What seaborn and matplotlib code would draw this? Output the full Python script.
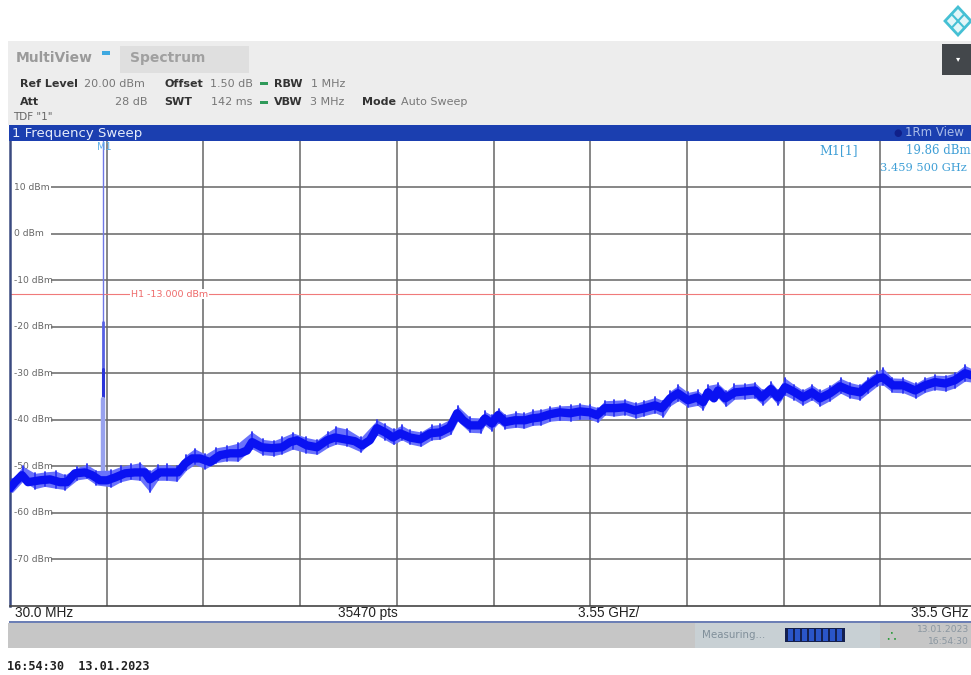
import numpy as np
import pandas as pd
import seaborn as sns
import matplotlib.pyplot as plt
from matplotlib.patches import Rectangle, Polygon

# trace: centre of the noise band
trace_ghz = [0.03, 0.21, 0.47, 0.69, 1.13, 1.50, 1.86, 2.12, 2.41, 2.78, 3.04, 3.33, 3.59, 3.88, 4.25, 4.61,
             4.98, 5.16, 5.53, 5.90, 6.19, 6.45, 6.71, 7.00, 7.37, 7.73, 8.10, 8.47, 8.72, 8.91, 9.27, 9.64,
             10.01, 10.30, 10.56, 10.92, 11.29, 11.66, 11.95, 12.32, 12.68, 12.94, 13.23, 13.49, 13.79, 14.08,
             14.34, 14.70, 15.07, 15.44, 15.80, 16.17, 16.43, 16.65, 16.90, 17.27, 17.45, 17.71, 17.93, 18.19,
             18.55, 18.92, 19.18, 19.47, 19.84, 20.20, 20.57, 20.94, 21.30, 21.56, 21.85, 22.22, 22.59, 22.95,
             23.32, 23.69, 23.94, 24.24, 24.53, 24.90, 25.23, 25.45, 25.63, 25.85, 26.00, 26.26, 26.62, 26.99,
             27.36, 27.61, 27.94, 28.20, 28.46, 28.82, 29.12, 29.45, 29.74, 30.11, 30.47, 30.84, 31.21, 31.50,
             31.87, 32.05, 32.42, 32.79, 33.23, 33.59, 33.96, 34.33, 34.69, 35.06, 35.28, 35.50]
trace_dbm = [-54.7, -53.4, -51.9, -53.4, -53.0, -52.8, -53.4, -53.4, -51.5, -51.3, -51.9, -53.0, -53.0, -52.4,
             -51.5, -51.3, -51.3, -52.8, -51.3, -51.3, -51.3, -49.4, -48.3, -48.3, -49.1, -47.6, -47.2, -47.2,
             -46.6, -44.8, -45.9, -46.1, -45.9, -44.8, -44.4, -45.5, -45.9, -44.4, -43.8, -44.2, -44.6, -45.5,
             -44.4, -41.8, -42.7, -43.8, -42.9, -43.8, -44.2, -42.9, -42.7, -41.6, -38.6, -40.1, -41.2, -41.2,
             -39.7, -40.8, -39.0, -40.5, -40.1, -40.1, -39.7, -39.5, -38.8, -38.4, -38.6, -38.2, -38.4, -39.0,
             -37.5, -37.5, -37.3, -38.0, -37.5, -36.9, -37.5, -35.4, -34.3, -35.8, -35.2, -36.2, -34.1, -35.4,
             -33.7, -35.4, -34.1, -33.9, -33.7, -35.2, -33.4, -35.2, -33.0, -34.1, -35.2, -34.1, -35.4, -34.3,
             -32.8, -33.7, -34.1, -32.6, -31.1, -30.9, -32.6, -32.6, -33.7, -32.6, -31.9, -32.2, -31.5, -30.0,
             -30.4, -30.6]

# tips of the noise on either side of the band
spike_ghz = [0.12, 0.5, 0.95, 1.3, 1.7, 2.05, 2.5, 2.85, 3.2, 3.75, 4.1, 4.45, 4.8, 5.16, 5.45, 5.8, 6.15, 6.5,
             6.8, 7.2, 7.6, 8.0, 8.4, 8.9, 9.3, 9.7, 10.0, 10.4, 10.9, 11.3, 11.7, 12.0, 12.4, 12.9, 13.5, 13.8,
             14.1, 14.4, 14.7, 15.1, 15.5, 15.8, 16.2, 16.45, 16.9, 17.3, 17.45, 17.7, 17.95, 18.2, 18.6, 18.9,
             19.2, 19.5, 19.85, 20.2, 20.6, 20.95, 21.3, 21.6, 21.85, 22.2, 22.6, 23.0, 23.3, 23.7, 24.0, 24.25,
             24.55, 24.9, 25.25, 25.45, 25.65, 26.0, 26.3, 26.6, 27.0, 27.35, 27.65, 27.95, 28.2, 28.45, 28.8,
             29.1, 29.45, 29.75, 30.1, 30.5, 30.85, 31.2, 31.5, 31.85, 32.05, 32.4, 32.8, 33.25, 33.6, 33.95,
             34.35, 34.7, 35.05, 35.3]
spike_top = [-52.8, -50.0, -51.5, -51.2, -51.0, -51.8, -50.2, -49.6, -50.9, -50.8, -50.0, -49.6, -49.2, -51.0,
             -49.8, -49.6, -50.0, -47.5, -46.2, -47.4, -46.0, -45.6, -45.0, -42.6, -44.2, -44.5, -43.8, -42.8,
             -43.8, -44.3, -42.6, -41.5, -42.0, -43.8, -40.0, -41.0, -42.0, -41.2, -42.2, -42.6, -41.2, -41.0,
             -39.8, -37.0, -39.5, -39.6, -38.2, -39.0, -37.6, -38.9, -38.4, -38.6, -38.0, -37.8, -37.3, -37.0,
             -36.9, -36.6, -36.9, -37.4, -35.9, -35.8, -35.7, -36.4, -35.9, -35.2, -35.9, -33.8, -32.6, -34.1,
             -33.7, -34.6, -32.6, -32.2, -33.8, -32.4, -32.3, -32.0, -33.6, -31.9, -33.6, -31.0, -32.5, -33.6,
             -32.5, -33.7, -32.7, -31.1, -32.0, -32.5, -31.0, -29.6, -28.9, -31.0, -31.1, -32.2, -31.0, -30.4,
             -30.5, -29.9, -28.3, -29.0]
spike_bottom = [-55.6, -53.2, -54.8, -54.3, -54.7, -55.0, -52.9, -52.6, -54.0, -54.4, -53.3, -52.8, -53.0, -55.5,
                -53.0, -53.0, -53.2, -50.8, -49.6, -50.5, -49.2, -48.8, -48.9, -46.2, -47.5, -47.7, -47.3, -46.3,
                -47.1, -47.4, -45.9, -45.2, -45.6, -46.9, -43.3, -44.3, -45.3, -44.3, -45.2, -45.7, -44.3, -44.2,
                -43.1, -40.3, -42.7, -42.8, -41.2, -42.3, -40.7, -41.9, -41.6, -41.8, -41.2, -41.1, -40.3, -40.1,
                -40.2, -39.9, -39.9, -40.5, -39.0, -39.2, -38.9, -39.6, -39.1, -38.5, -39.3, -37.0, -35.9, -37.3,
                -36.9, -37.8, -35.7, -35.3, -37.1, -35.6, -35.5, -35.3, -36.8, -35.1, -36.8, -34.7, -35.7, -36.8,
                -35.7, -37.0, -35.9, -34.3, -35.3, -35.7, -34.3, -32.7, -32.5, -34.1, -34.2, -35.3, -34.1, -33.5,
                -33.8, -33.1, -31.7, -31.9]

# carrier at the marker, read top to bottom
marker_ghz = 3.4595
carrier_dbm = [19.86, -19.0, -29.0, -35.5, -53.0]

level_ticks = [10, 0, -10, -20, -30, -40, -50, -60, -70]
freq_grid = [3.58, 7.12, 10.67, 14.22, 17.77, 21.31, 24.86, 28.41, 31.95]
limit_dbm = -13.0

W, H = 971, 675
sns.set_style("white")
fig = plt.figure(figsize=(W / 100, H / 100), dpi=100, facecolor="white")


def box(x0, y0, x1, y1, color, **kw):
    fig.add_artist(Rectangle((x0 / W, 1 - y1 / H), (x1 - x0) / W, (y1 - y0) / H,
                             transform=fig.transFigure, facecolor=color, edgecolor="none", **kw))


def label(x, y, s, **kw):
    kw.setdefault("va", "center")
    kw.setdefault("color", "#555555")
    kw.setdefault("fontsize", 8)
    fig.text(x / W, 1 - y / H, s, **kw)


# header and status panels
box(8, 41, 971, 125, "#ededed")
box(120, 46, 249, 73, "#dfdfdf")
box(942, 44, 971, 75, "#43474b")
box(9, 125, 971, 141, "#1b3fb0")
box(8, 623, 971, 648, "#c6c6c6")
box(695, 623, 880, 648, "#c8d0d4")
box(9, 621, 971, 623, "#6c7fb5")
box(102, 51, 110, 55, "#3fa9e0")
box(260, 82, 268, 85, "#2f9a5a")
box(260, 101, 268, 104, "#2f9a5a")
box(785, 628, 845, 642, "#14204f")
for bx in [788, 795, 802, 809, 816, 823, 830, 837]:
    box(bx, 629, bx + 5, 641, "#2a55c8")
fig.add_artist(Polygon([(945 / W, 1 - 21 / H), (958 / W, 1 - 7 / H), (971 / W, 1 - 21 / H), (958 / W, 1 - 35 / H)],
                       closed=True, transform=fig.transFigure, facecolor="#e4f6f8", edgecolor="#45c0d4", lw=2))
fig.add_artist(plt.Line2D([951.5 / W, 964.5 / W], [1 - 14 / H, 1 - 28 / H], transform=fig.transFigure,
                          color="#45c0d4", lw=1.5))
fig.add_artist(plt.Line2D([951.5 / W, 964.5 / W], [1 - 28 / H, 1 - 14 / H], transform=fig.transFigure,
                          color="#45c0d4", lw=1.5))

ax = fig.add_axes([10 / W, 1 - 606 / H, 967 / W, 465.5 / H])
ax.set_xlim(0.03, 35.5)
ax.set_ylim(-80, 20)
ax.set_xticks(freq_grid)
ax.set_yticks([])
ax.tick_params(labelbottom=False, length=0)
ax.grid(axis="x", color="#666666", lw=1.1)
ax.hlines(level_ticks, 1.55, 35.5, color="#666666", lw=1.1, zorder=1)
for v in level_ticks:
    ax.text(0.17, v, f"{v} dBm", fontsize=6.6, color="#666666", va="center")

for side in ["top", "right"]:
    ax.spines[side].set_visible(False)
ax.spines["left"].set_color("#3a4a80")
ax.spines["left"].set_linewidth(1.8)
ax.spines["bottom"].set_color("#444444")
ax.spines["bottom"].set_linewidth(1.2)

ax.axhline(limit_dbm, color="#f07a7a", lw=0.8, zorder=2)
ax.text(4.47, limit_dbm, f"H1 {limit_dbm:.3f} dBm", color="#ee6a6a", fontsize=6.8,
        va="center", bbox=dict(facecolor="white", edgecolor="none", pad=0.6), zorder=3)

# carrier, pale where the sweep only crosses it quickly
carrier = pd.DataFrame({"ghz": marker_ghz, "dbm": carrier_dbm})
sns.lineplot(data=carrier.iloc[:2], x="ghz", y="dbm", color="#6f78e6", lw=1.0, estimator=None, sort=False, ax=ax, zorder=3)
sns.lineplot(data=carrier.iloc[1:3], x="ghz", y="dbm", color="#5660e4", lw=2.0, estimator=None, sort=False, ax=ax, zorder=3)
sns.lineplot(data=carrier.iloc[2:4], x="ghz", y="dbm", color="#2a34d8", lw=2.2, estimator=None, sort=False, ax=ax, zorder=3)
sns.lineplot(data=carrier.iloc[3:], x="ghz", y="dbm", color="#98a2ee", lw=3.2, estimator=None, sort=False, ax=ax, zorder=3)

# noise band: pale envelope and vertical tips, then the solid core
ax.fill_between(spike_ghz, spike_top, spike_bottom, color="#6a72fb", lw=0, zorder=4)
tips = pd.DataFrame({
    "ghz": np.repeat(spike_ghz, 2),
    "dbm": np.column_stack([spike_top, spike_bottom]).ravel(),
    "id": np.repeat(np.arange(len(spike_ghz)), 2),
})
sns.lineplot(data=tips, x="ghz", y="dbm", units="id", color="#2a32f5", lw=1.3, estimator=None, sort=False,
             ax=ax, zorder=5)
band = pd.DataFrame({"ghz": trace_ghz, "dbm": trace_dbm})
sns.lineplot(data=band, x="ghz", y="dbm", color="#0a12f2", lw=6.0, estimator=None, sort=False, ax=ax, zorder=6)
ax.set_xlabel("")
ax.set_ylabel("")

# header text
label(16, 58, "MultiView", fontsize=10, fontweight="bold", color="#9a9a9a")
label(130, 58, "Spectrum", fontsize=10, fontweight="bold", color="#a0a0a0")
label(20, 84, "Ref Level", fontsize=8, fontweight="bold", color="#333333")
label(84, 84, "20.00 dBm", fontsize=8, color="#777777")
label(164, 84, "Offset", fontsize=8, fontweight="bold", color="#333333")
label(210, 84, "1.50 dB", fontsize=8, color="#777777")
label(274, 84, "RBW", fontsize=8, fontweight="bold", color="#333333")
label(311, 84, "1 MHz", fontsize=8, color="#777777")
label(20, 102, "Att", fontsize=8, fontweight="bold", color="#333333")
label(115, 102, "28 dB", fontsize=8, color="#777777")
label(164, 102, "SWT", fontsize=8, fontweight="bold", color="#333333")
label(211, 102, "142 ms", fontsize=8, color="#777777")
label(274, 102, "VBW", fontsize=8, fontweight="bold", color="#333333")
label(310, 102, "3 MHz", fontsize=8, color="#777777")
label(362, 102, "Mode", fontsize=8, fontweight="bold", color="#333333")
label(401, 102, "Auto Sweep", fontsize=8, color="#777777")
label(13, 117, 'TDF "1"', fontsize=7.5, color="#666666")
label(12, 133, "1 Frequency Sweep", fontsize=9.5, color="#e6ecfa")
label(905, 133, "1Rm View", fontsize=8.5, color="#a9bce8")
label(893, 133, "\u25cf", fontsize=7, color="#10208a")
label(958, 59, "\u25be", fontsize=6, color="white", ha="center")

# marker readout
label(97, 146.5, "M1", fontsize=7, color="#5fb0e8")
label(819, 151, "M1[1]", fontsize=9, family="DejaVu Serif", color="#3f9fd6")
label(906, 151, "19.86 dBm", fontsize=8.5, family="DejaVu Serif", color="#3f9fd6")
label(880, 168, "3.459 500 GHz", fontsize=8.2, family="DejaVu Serif", color="#3f9fd6")

# bottom strip
label(15, 613, "30.0 MHz", fontsize=9.8, family="Liberation Sans", color="#222222")
label(338, 613, "35470 pts", fontsize=9.8, family="Liberation Sans", color="#222222")
label(578, 613, "3.55 GHz/", fontsize=9.8, family="Liberation Sans", color="#222222")
label(911, 613, "35.5 GHz", fontsize=9.8, family="Liberation Sans", color="#222222")
label(702, 635, "Measuring...", fontsize=7.4, color="#808f9a")
label(886, 636, "\u2234", fontsize=11, color="#2a9a3a")
label(969, 630, "13.01.2023", fontsize=6.6, color="#8a96a0", ha="right")
label(969, 642, "16:54:30", fontsize=6.6, color="#8a96a0", ha="right")
label(7, 667, "16:54:30  13.01.2023", fontsize=8.6, family="DejaVu Sans Mono", fontweight="bold", color="#222222")

fig.savefig("out.png", dpi=100)
